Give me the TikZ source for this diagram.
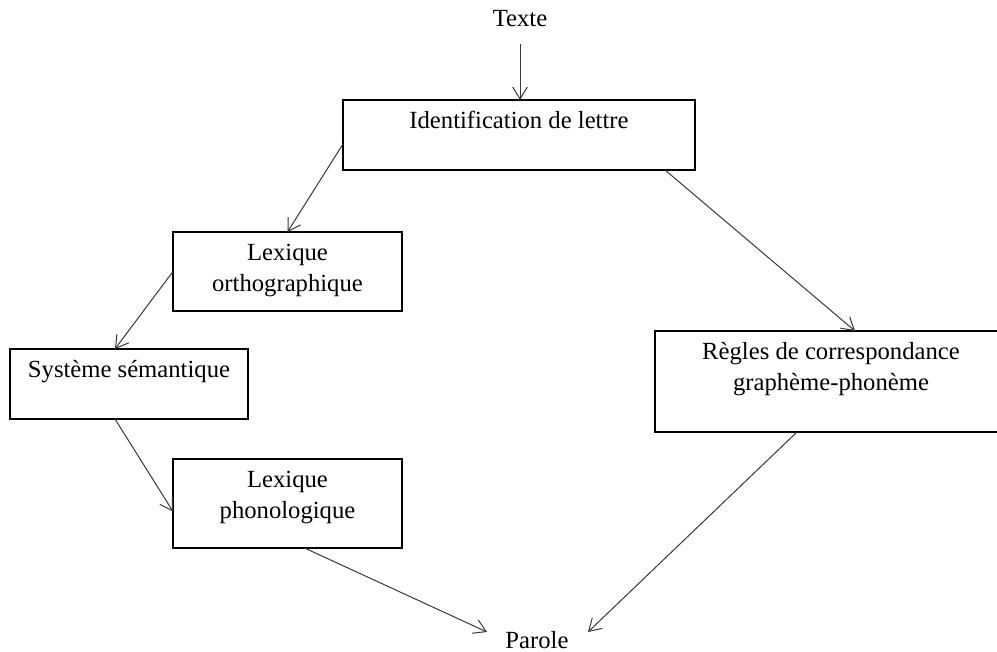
\documentclass[tikz,border=0pt]{standalone}
\usepackage{fontspec}
\setmainfont{Liberation Serif}
\usetikzlibrary{arrows.meta,calc}

% box content: fixed-size parbox, text set from the top
\newcommand\boxtext[3]{\parbox[c][#2][t]{#1}{\centering\vspace*{5pt}\strut #3\par}}

\tikzset{
  box/.style={draw=black, line width=0.9pt, rectangle, inner sep=0pt, outer sep=0pt},
  word/.style={inner sep=0pt, anchor=base},
  arr/.style={draw=black!78, line width=0.75pt,
              -{Straight Barb[length=9pt,width=11pt,line width=0.75pt]}}
}

\begin{document}
\begin{tikzpicture}[x=0.75pt, y=-0.75pt,
  every node/.style={font=\fontsize{18.5}{23.25}\selectfont, text=black}]
  \useasboundingbox (0,0) rectangle (997,652);
  \clip (0,0) rectangle (997,652);

  % labels without a frame
  \node[word] (texte)  at (520,27)  {Texte};
  \node[word] (parole) at (537,648) {Parole};

  % framed stages
  \node[box] (id) at (519,135)
    {\boxtext{264pt}{52.5pt}{Identification de lettre}};
  \node[box] (lo) at (287.5,271.5)
    {\boxtext{171.75pt}{59.25pt}{Lexique\\orthographique}};
  \node[box] (ss) at (129,384)
    {\boxtext{178.5pt}{52.5pt}{Système sémantique}};
  \node[box] (lp) at (287.5,503.5)
    {\boxtext{171.75pt}{66.75pt}{Lexique\\phonologique}};
  \node[box] (rg) at (831,381.5)
    {\boxtext{264pt}{75.75pt}{Règles de correspondance\\graphème-phonème}};

  % connectors
  \draw[arr] ($(texte.base)+(0,17)$) -- (texte.base |- id.north);
  \draw[arr] ($(id.west)+(0,9)$) -- (lo.north);
  \draw[arr] (lo.west) -- ($(ss.north)+(-14,0)$);
  \draw[arr] ($(ss.south)+(-14,0)$) -- ($(lp.west)+(0,8)$);
  \draw[arr] ($(lp.south)+(17,0)$) -- ($(parole.base)+(-50,-16)$);
  \draw[arr] ($(id.south)+(146,0)$) -- ($(rg.north)+(24,0)$);
  \draw[arr] ($(rg.south)+(-34,0)$) -- ($(parole.base)+(51,-16)$);
\end{tikzpicture}
\end{document}
